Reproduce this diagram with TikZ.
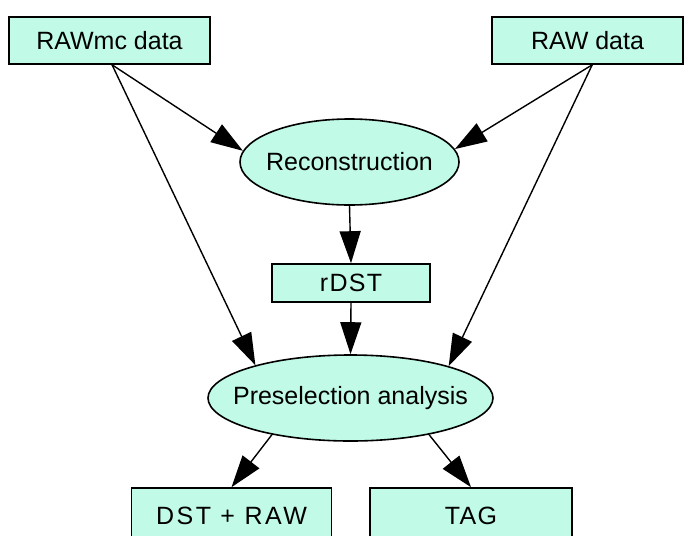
\documentclass[tikz,border=0pt]{standalone}
\usepackage{fontspec}
\setmainfont{Liberation Sans}
\newfontfamily\spacedfont[LetterSpace=10]{Liberation Sans}
\newfontfamily\lightspaced[LetterSpace=5]{Liberation Sans}
\usetikzlibrary{arrows.meta,shapes.geometric}
\definecolor{mint}{RGB}{193,251,232}
\begin{document}
\begin{tikzpicture}[x=1pt,y=-1pt,
  every node/.style={font=\fontsize{25}{29}\selectfont},
  box/.style={draw,line width=1.6pt,fill=mint,rectangle,inner sep=0pt},
  oval/.style={draw,line width=1.6pt,fill=mint,ellipse,inner sep=0pt},
  arr/.style={line width=1.4pt,-{Triangle[length=32pt,width=21pt]}}]
\useasboundingbox (0,0) rectangle (684,535);
\node[box,minimum width=201pt,minimum height=47pt] (rawmc) at (109.5,40.5) {RAWmc data};
\node[box,minimum width=191pt,minimum height=47pt] (raw) at (587.5,40.5) {RAW data};
\node[oval,minimum width=219pt,minimum height=86pt] (reco) at (349.5,162) {\makebox[0pt]{Reconstruction}};
\node[box,minimum width=158pt,minimum height=38pt] (rdst) at (351,283) {\lightspaced rDST};
\node[oval,minimum width=285pt,minimum height=86pt] (presel) at (350.5,398) {\makebox[0pt]{Preselection analysis}};
\node[box,minimum width=200pt,minimum height=60pt] (dst) at (231.5,518) {};
\node (dsttext) at (231.5,516) {\spacedfont DST + RAW};
\node[box,minimum width=202pt,minimum height=60pt] (tag) at (471,518) {};
\node (tagtext) at (471,516) {\lightspaced TAG};
\draw[arr] (rawmc.-84) -- (reco.174);
\draw[arr] (raw.-79) -- (reco.7);
\draw[arr] (rawmc.-84) -- (presel.161.5);
\draw[arr] (raw.-79) -- (presel.18.3);
\draw[arr] (reco.south) -- (rdst.north);
\draw[arr] (rdst.south) -- (presel.north);
\draw[arr] (presel.205.3) -- (dst.north);
\draw[arr] (presel.335) -- (tag.north);
\end{tikzpicture}
\end{document}
